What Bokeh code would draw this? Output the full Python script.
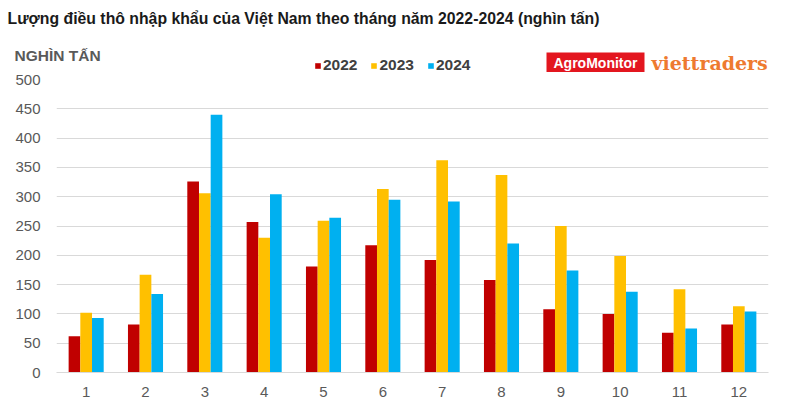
from bokeh.plotting import figure
from bokeh.models import (ColumnDataSource, FactorRange, Range1d, Label, Legend, LegendItem,
                          SingleIntervalTicker, BoxAnnotation)
from bokeh.transform import dodge
from bokeh.embed import file_html
from bokeh.resources import INLINE

months = ["1", "2", "3", "4", "5", "6", "7", "8", "9", "10", "11", "12"]
y2022 = [62, 82, 326, 257, 181, 217, 192, 158, 108, 100, 68, 82]
y2023 = [102, 167, 306, 230, 259, 313, 362, 337, 250, 199, 142, 113]
y2024 = [93, 134, 440, 304, 264, 295, 292, 220, 174, 138, 75, 104]
series = ["2022", "2023", "2024"]
colors = ["#C00000", "#FFC000", "#00B0F0"]

title_text = "Lượng điều thô nhập khẩu của Việt Nam theo tháng năm 2022-2024 (nghìn tấn)"
unit_text = "NGHÌN TẤN"

src = ColumnDataSource(dict(m=months, a=y2022, b=y2023, c=y2024))
cols = ["a", "b", "c"]

W = 785
HH = 72  # header height

# ---------------- header (title, unit, legend, logos) ----------------
h = figure(width=W, height=HH, x_range=Range1d(0, W), y_range=Range1d(HH, 0),
           x_axis_type=None, y_axis_type=None, output_backend="svg", toolbar_location=None,
           min_border=0, min_border_left=0, min_border_right=0, min_border_top=0,
           min_border_bottom=0)
h.outline_line_color = None
h.xgrid.grid_line_color = None
h.ygrid.grid_line_color = None

h.add_layout(Label(x=7, y=18, text=title_text,
                   text_font="Liberation Sans", text_font_style="bold", text_font_size="15.8px",
                   text_color="#1a1a1a", text_baseline="middle"))
h.add_layout(Label(x=14, y=55, text=unit_text,
                   text_font="Liberation Sans", text_font_style="bold", text_font_size="15.5px",
                   text_color="#595959", text_baseline="middle"))

h.add_layout(BoxAnnotation(left=546, right=644, top=52, bottom=72, fill_color="#E3161F",
                           fill_alpha=1, line_color=None))
h.add_layout(Label(x=595, y=62, text="AgroMonitor", text_align="center",
                   text_font="Liberation Sans", text_font_style="bold", text_font_size="14px",
                   text_color="white", text_baseline="middle"))
h.add_layout(Label(x=651, y=62, text="viettraders",
                   text_font="DejaVu Serif", text_font_style="bold", text_font_size="19px",
                   text_color="#EE7A30", text_baseline="middle"))

# legend keys: same series/colours, hidden glyphs in the header
keys = [h.vbar(x="m", top=col, width=1, source=src, fill_color=c, line_color=None, visible=False)
        for col, c in zip(cols, colors)]
legend = Legend(items=[LegendItem(label=s, renderers=[r]) for s, r in zip(series, keys)],
                orientation="horizontal", location=(314, -2),
                glyph_width=7, glyph_height=7, label_standoff=2, spacing=13,
                padding=0, margin=0, border_line_color=None, background_fill_alpha=0,
                inactive_fill_alpha=0,
                label_text_font="Liberation Sans", label_text_font_style="bold",
                label_text_font_size="15.5px", label_text_color="#404040", label_height=14)
h.add_layout(legend)

# ---------------- chart ----------------
FL, FT, FB, FR = 56, 79, 372, 768
p = figure(x_range=FactorRange(*months, range_padding=0), y_range=Range1d(0, 500),
           width=W, height=(FB - HH) + 30, output_backend="svg", toolbar_location=None,
           min_border_left=FL, min_border_right=W - FR,
           min_border_top=FT - HH, min_border_bottom=30)
p.outline_line_color = None

bw = 0.197
for i, (col, c) in enumerate(zip(cols, colors)):
    p.vbar(x=dodge("m", (i - 1) * bw, range=p.x_range), top=col, width=bw,
           source=src, fill_color=c, line_color=None)

p.yaxis.ticker = SingleIntervalTicker(interval=50)
p.yaxis.axis_line_color = None
p.yaxis.major_tick_line_color = None
p.yaxis.minor_tick_line_color = None
p.yaxis.major_label_text_font = "Liberation Sans"
p.yaxis.major_label_text_font_size = "15px"
p.yaxis.major_label_text_color = "#595959"
p.yaxis.major_label_standoff = 10

p.xaxis.axis_line_color = "#D9D9D9"
p.xaxis.major_tick_line_color = None
p.xaxis.minor_tick_line_color = None
p.xaxis.major_label_text_font = "Liberation Sans"
p.xaxis.major_label_text_font_size = "15px"
p.xaxis.major_label_text_color = "#595959"
p.xaxis.major_label_standoff = 8

p.xgrid.grid_line_color = None
p.ygrid.grid_line_color = "#D9D9D9"

open("out.html", "w").write(file_html([h, p], INLINE))
